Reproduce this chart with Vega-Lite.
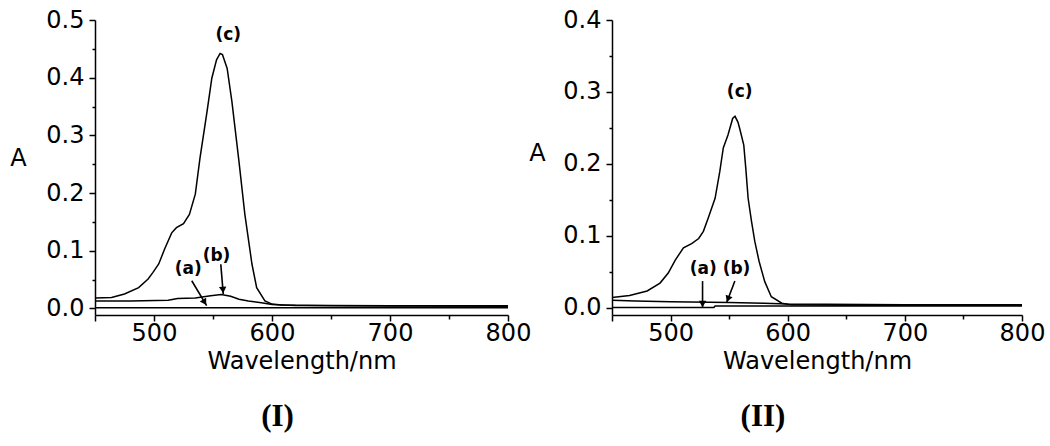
{
  "$schema": "https://vega.github.io/schema/vega-lite/v6.json",
  "bounds": "flush",
  "spacing": 104,
  "padding": {"left": 9, "top": 8, "right": 5, "bottom": 5},
  "background": "white",
  "config": {
    "view": {"stroke": null},
    "axis": {
      "grid": false, "domainColor": "black", "tickColor": "black", "labelColor": "black", "titleColor": "black",
      "labelFont": "DejaVu Sans", "labelFontSize": 24, "titleFont": "DejaVu Sans", "titleFontSize": 24,
      "titleFontWeight": "normal", "domainWidth": 1.5, "tickWidth": 1.5
    }
  },
  "hconcat": [
    {
      "width": 413, "height": 295,
      "title": {"text": "(I)", "orient": "bottom", "font": "Liberation Serif", "fontSize": 31, "fontWeight": "bold", "color": "black", "dx": -24, "offset": 29},
      "layer": [
        {
          "data": {"values": [
            {"s":"c","w":450,"a":0.018},{"s":"c","w":464,"a":0.019},{"s":"c","w":475,"a":0.025},{"s":"c","w":487,"a":0.036},{"s":"c","w":495,"a":0.051},{"s":"c","w":499,"a":0.062},{"s":"c","w":504,"a":0.077},{"s":"c","w":509,"a":0.103},{"s":"c","w":515,"a":0.131},{"s":"c","w":519,"a":0.14},{"s":"c","w":525,"a":0.147},{"s":"c","w":530,"a":0.163},{"s":"c","w":535,"a":0.198},{"s":"c","w":539,"a":0.261},{"s":"c","w":545,"a":0.342},{"s":"c","w":549,"a":0.399},{"s":"c","w":553,"a":0.431},{"s":"c","w":556,"a":0.442},{"s":"c","w":558,"a":0.44},{"s":"c","w":562,"a":0.416},{"s":"c","w":566,"a":0.359},{"s":"c","w":572,"a":0.255},{"s":"c","w":577,"a":0.163},{"s":"c","w":583,"a":0.077},{"s":"c","w":587,"a":0.036},{"s":"c","w":594,"a":0.013},{"s":"c","w":600,"a":0.0075},{"s":"c","w":608,"a":0.006},{"s":"c","w":650,"a":0.005},{"s":"c","w":700,"a":0.0048},{"s":"c","w":750,"a":0.0045},{"s":"c","w":800,"a":0.0045},
            {"s":"b","w":450,"a":0.013},{"s":"b","w":480,"a":0.013},{"s":"b","w":512,"a":0.014},{"s":"b","w":520,"a":0.017},{"s":"b","w":535,"a":0.018},{"s":"b","w":548,"a":0.022},{"s":"b","w":557,"a":0.024},{"s":"b","w":565,"a":0.021},{"s":"b","w":572,"a":0.016},{"s":"b","w":580,"a":0.013},{"s":"b","w":591,"a":0.01},{"s":"b","w":600,"a":0.007},{"s":"b","w":620,"a":0.005},{"s":"b","w":700,"a":0.004},{"s":"b","w":800,"a":0.0038},
            {"s":"a","w":450,"a":0.001},{"s":"a","w":600,"a":0.001},{"s":"a","w":800,"a":0.001}
          ]},
          "mark": {"type": "line", "color": "black", "strokeWidth": 1.5},
          "encoding": {
            "x": {"field": "w", "type": "quantitative", "scale": {"domain": [450, 800], "nice": false, "zero": false},
              "axis": {"orient": "bottom", "values": [450, 500, 600, 700, 800], "labelExpr": "datum.value == 450 ? '' : datum.label", "title": "Wavelength/nm", "titleY": 53, "titleBaseline": "alphabetic", "tickSize": 6, "labelPadding": 0, "labelFlush": false, "labelOverlap": false}},
            "y": {"field": "a", "type": "quantitative", "scale": {"domain": [-0.0114, 0.5], "nice": false, "zero": false},
              "axis": {"orient": "left", "values": [0, 0.1, 0.2, 0.3, 0.4, 0.5], "format": ".1f", "title": "A", "titleAngle": 0, "titleX": -77, "titleY": 145, "titleAlign": "center", "titleBaseline": "alphabetic", "tickSize": 6, "labelPadding": 5}},
            "detail": {"field": "s"}
          }
        },
        {
          "data": {"values": [
            {"w":556.6,"a":0.0766,"w2":558.7,"a2":0.025,"hw":558.4,"ha":0.032,"ang":-5},
            {"w":532,"a":0.048,"w2":544.6,"a2":0.0047,"hw":542.9,"ha":0.0105,"ang":-31}
          ]},
          "mark": {"type": "rule", "color": "black", "strokeWidth": 1.6},
          "encoding": {
            "x": {"field": "w", "type": "quantitative", "scale": {"domain": [450, 800], "nice": false, "zero": false}, "axis": null},
            "y": {"field": "a", "type": "quantitative", "scale": {"domain": [-0.0114, 0.5], "nice": false, "zero": false}, "axis": null},
            "x2": {"field": "w2"}, "y2": {"field": "a2"}
          }
        },
        {
          "data": {"values": [
            {"w":556.6,"a":0.0766,"w2":558.7,"a2":0.025,"hw":558.4,"ha":0.032,"ang":-5},
            {"w":532,"a":0.048,"w2":544.6,"a2":0.0047,"hw":542.9,"ha":0.0105,"ang":-31}
          ]},
          "mark": {"type": "point", "shape": "triangle-down", "filled": true, "color": "black", "opacity": 1, "size": 55},
          "encoding": {
            "x": {"field": "hw", "type": "quantitative", "scale": {"domain": [450, 800], "nice": false, "zero": false}, "axis": null},
            "y": {"field": "ha", "type": "quantitative", "scale": {"domain": [-0.0114, 0.5], "nice": false, "zero": false}, "axis": null},
            "angle": {"field": "ang", "type": "quantitative", "scale": null}
          }
        },
        {
          "data": {"values": [
            {"t":"(c)","w":563,"a":0.474},{"t":"(b)","w":553,"a":0.091},{"t":"(a)","w":529,"a":0.068}
          ]},
          "mark": {"type": "text", "font": "DejaVu Sans", "fontWeight": "bold", "fontSize": 17, "color": "black", "align": "center", "baseline": "middle"},
          "encoding": {
            "x": {"field": "w", "type": "quantitative", "scale": {"domain": [450, 800], "nice": false, "zero": false},
              "axis": {"orient": "bottom", "values": [550, 650, 750], "labels": false, "domain": false, "tickSize": 4, "title": null}},
            "y": {"field": "a", "type": "quantitative", "scale": {"domain": [-0.0114, 0.5], "nice": false, "zero": false},
              "axis": {"orient": "left", "values": [0.05, 0.15, 0.25, 0.35, 0.45], "labels": false, "domain": false, "tickSize": 3, "title": null}},
            "text": {"field": "t"}
          }
        }
      ],
      "resolve": {"axis": {"x": "independent", "y": "independent"}}
    },
    {
      "width": 410, "height": 295,
      "title": {"text": "(II)", "orient": "bottom", "font": "Liberation Serif", "fontSize": 31, "fontWeight": "bold", "color": "black", "dx": -54, "offset": 29},
      "layer": [
        {
          "data": {"values": [
            {"s":"c","w":450,"a":0.014},{"s":"c","w":465,"a":0.0167},{"s":"c","w":480,"a":0.023},{"s":"c","w":491,"a":0.034},{"s":"c","w":498,"a":0.048},{"s":"c","w":504,"a":0.066},{"s":"c","w":511,"a":0.083},{"s":"c","w":518,"a":0.089},{"s":"c","w":524,"a":0.096},{"s":"c","w":528,"a":0.106},{"s":"c","w":532,"a":0.124},{"s":"c","w":538,"a":0.152},{"s":"c","w":542,"a":0.189},{"s":"c","w":545,"a":0.222},{"s":"c","w":549,"a":0.24},{"s":"c","w":553,"a":0.263},{"s":"c","w":555,"a":0.266},{"s":"c","w":557.5,"a":0.258},{"s":"c","w":559,"a":0.249},{"s":"c","w":562.5,"a":0.226},{"s":"c","w":564.2,"a":0.194},{"s":"c","w":566.2,"a":0.152},{"s":"c","w":569.1,"a":0.12},{"s":"c","w":571.9,"a":0.092},{"s":"c","w":575.6,"a":0.064},{"s":"c","w":580.4,"a":0.036},{"s":"c","w":586,"a":0.015},{"s":"c","w":595,"a":0.006},{"s":"c","w":603,"a":0.0037},{"s":"c","w":650,"a":0.003},{"s":"c","w":800,"a":0.003},
            {"s":"b","w":450,"a":0.01},{"s":"b","w":470,"a":0.009},{"s":"b","w":500,"a":0.008},{"s":"b","w":550,"a":0.007},{"s":"b","w":580,"a":0.006},{"s":"b","w":600,"a":0.005},{"s":"b","w":700,"a":0.004},{"s":"b","w":800,"a":0.004},
            {"s":"a","w":450,"a":0.0},{"s":"a","w":537,"a":0.0},{"s":"a","w":538,"a":0.002},{"s":"a","w":800,"a":0.002}
          ]},
          "mark": {"type": "line", "color": "black", "strokeWidth": 1.5},
          "encoding": {
            "x": {"field": "w", "type": "quantitative", "scale": {"domain": [450, 800], "nice": false, "zero": false},
              "axis": {"orient": "bottom", "values": [450, 500, 600, 700, 800], "labelExpr": "datum.value == 450 ? '' : datum.label", "title": "Wavelength/nm", "titleY": 53, "titleBaseline": "alphabetic", "tickSize": 6, "labelPadding": 0, "labelFlush": false, "labelOverlap": false}},
            "y": {"field": "a", "type": "quantitative", "scale": {"domain": [-0.0104, 0.4], "nice": false, "zero": false},
              "axis": {"orient": "left", "values": [0, 0.1, 0.2, 0.3, 0.4], "format": ".1f", "title": "A", "titleAngle": 0, "titleX": -75, "titleY": 140, "titleAlign": "center", "titleBaseline": "alphabetic", "tickSize": 6, "labelPadding": 5}},
            "detail": {"field": "s"}
          }
        },
        {
          "data": {"values": [
            {"w":554.9,"a":0.0368,"w2":547.8,"a2":0.0067,"hw":549,"ha":0.0118,"ang":21},
            {"w":527.3,"a":0.0368,"w2":527.3,"a2":0.0,"hw":527.3,"ha":0.0049,"ang":0}
          ]},
          "mark": {"type": "rule", "color": "black", "strokeWidth": 1.6},
          "encoding": {
            "x": {"field": "w", "type": "quantitative", "scale": {"domain": [450, 800], "nice": false, "zero": false}, "axis": null},
            "y": {"field": "a", "type": "quantitative", "scale": {"domain": [-0.0104, 0.4], "nice": false, "zero": false}, "axis": null},
            "x2": {"field": "w2"}, "y2": {"field": "a2"}
          }
        },
        {
          "data": {"values": [
            {"w":554.9,"a":0.0368,"w2":547.8,"a2":0.0067,"hw":549,"ha":0.0118,"ang":21},
            {"w":527.3,"a":0.0368,"w2":527.3,"a2":0.0,"hw":527.3,"ha":0.0049,"ang":0}
          ]},
          "mark": {"type": "point", "shape": "triangle-down", "filled": true, "color": "black", "opacity": 1, "size": 55},
          "encoding": {
            "x": {"field": "hw", "type": "quantitative", "scale": {"domain": [450, 800], "nice": false, "zero": false}, "axis": null},
            "y": {"field": "ha", "type": "quantitative", "scale": {"domain": [-0.0104, 0.4], "nice": false, "zero": false}, "axis": null},
            "angle": {"field": "ang", "type": "quantitative", "scale": null}
          }
        },
        {
          "data": {"values": [
            {"t":"(c)","w":559,"a":0.3},{"t":"(a)","w":527.8,"a":0.053},{"t":"(b)","w":556.3,"a":0.053}
          ]},
          "mark": {"type": "text", "font": "DejaVu Sans", "fontWeight": "bold", "fontSize": 17, "color": "black", "align": "center", "baseline": "middle"},
          "encoding": {
            "x": {"field": "w", "type": "quantitative", "scale": {"domain": [450, 800], "nice": false, "zero": false},
              "axis": {"orient": "bottom", "values": [550, 650, 750], "labels": false, "domain": false, "tickSize": 4, "title": null}},
            "y": {"field": "a", "type": "quantitative", "scale": {"domain": [-0.0104, 0.4], "nice": false, "zero": false},
              "axis": {"orient": "left", "values": [0.05, 0.15, 0.25, 0.35], "labels": false, "domain": false, "tickSize": 3, "title": null}},
            "text": {"field": "t"}
          }
        }
      ],
      "resolve": {"axis": {"x": "independent", "y": "independent"}}
    }
  ]
}
